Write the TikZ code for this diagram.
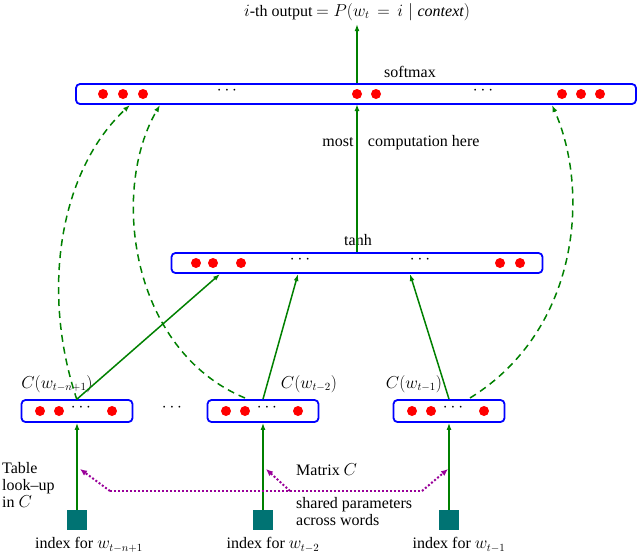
\documentclass[tikz,border=0pt]{standalone}
\usepackage{fontspec}
\setmainfont{Liberation Serif}
\usetikzlibrary{arrows.meta}
\begin{document}
\begin{tikzpicture}[x=1pt,y=-1pt,font=\fontsize{16}{17}\selectfont,
 box/.style={draw=blue,line width=1.8pt,rounded corners=4pt,inner sep=0},
 dot/.style={fill=red,circle,inner sep=0,minimum width=9pt,minimum height=10pt},
 gr/.style={draw=green!50!black,line width=1.5pt,-{Latex[length=7pt,width=5pt]}},
 gd/.style={gr,dash pattern=on 7pt off 5pt},
 pu/.style={draw=violet!80!magenta,line width=2pt,dotted,-{Latex[length=7pt,width=6pt]}},
 sq/.style={fill=teal!90!black,minimum size=20pt,inner sep=0}]
\useasboundingbox (0,0) rectangle (640,555);
% boxes
\node[box,minimum width=111pt,minimum height=22pt] (b1) at (77,411) {};
\node[box,minimum width=111pt,minimum height=22pt] (b2) at (263,411) {};
\node[box,minimum width=111pt,minimum height=22pt] (b3) at (449,411) {};
\node[box,minimum width=371pt,minimum height=20pt] (th) at (357,263) {};
\node[box,minimum width=560pt,minimum height=20pt] (sm) at (356,94) {};
\foreach \b/\x in {1/22,2/208,3/394}{
 \node[dot] (d\b a) at (\x+18,411) {};
 \node[dot] (d\b b) at (\x+37,411) {};
 \node (d\b c) at (\x+59,408) {$\cdots$};
 \node[dot] (d\b d) at (\x+90,411) {};}
\node (dots) at (172,408) {$\cdots$};
\foreach \n/\x in {t1/196,t2/213,t3/241,t4/500,t5/520}{\node[dot] (\n) at (\x,263) {};}
\node (te1) at (300,260) {$\cdots$};
\node (te2) at (420,260) {$\cdots$};
\foreach \n/\x in {s1/103,s2/123,s3/143,s4/357,s5/376,s6/562,s7/581,s8/600}{\node[dot] (\n) at (\x,94) {};}
\node (se1) at (227,91) {$\cdots$};
\node (se2) at (483,91) {$\cdots$};
% labels
\node (tanh) at (358,240) {tanh};
\node (soft) at (410,72) {softmax};
\node (out) at (357,12) {$i$-th output $= P(w_t\,=\,i\mid \mathit{context})$};
\node (mc) at (401,143) {most\hspace{0.9em}computation here};
\node (c1) at (57,384) {$C(w_{t-n+1})$};
\node (c2) at (309,384) {$C(w_{t-2})$};
\node (c3) at (414,384) {$C(w_{t-1})$};
\node[align=left,anchor=north west,inner sep=0] (tl) at (2,462) {Table\\ look\textendash up\\ in $C$};
\node[anchor=west,inner sep=0] (mx) at (296,470) {Matrix $C$};
\node[align=left,anchor=north west,inner sep=0] (sp) at (296,497) {shared parameters\\across words};
% index squares
\node[sq] (i1) at (77,520) {};
\node[sq] (i2) at (263,520) {};
\node[sq] (i3) at (449,520) {};
\node (l1) at (89,545) {index for $w_{t-n+1}$};
\node (l2) at (273,545) {index for $w_{t-2}$};
\node (l3) at (459,545) {index for $w_{t-1}$};
% connectors
\draw[gr] (i1.north) -- (b1.south);
\draw[gr] (i2.north) -- (b2.south);
\draw[gr] (i3.north) -- (b3.south);
\draw[gr] (b1.north) -- (220,274);
\draw[gr] (b2.north) -- (298,274);
\draw[gr] (b3.north) -- (410,274);
\draw[gr] (th.north) -- (357,104);
\draw[gr] (sm.north -| 357,0) -- (out.south);
\draw[gd] (77,400) .. controls (40,290) and (60,170) .. (130,105);
\draw[gd] (245,398) .. controls (130,350) and (110,190) .. (160,105);
\draw[gd] (470,398) .. controls (580,330) and (590,190) .. (552,105);
\coordinate (p1) at (110,491);
\coordinate (p2) at (290,491);
\coordinate (p3) at (422,491);
\draw[pu] (p1) -- (80,469);
\draw[pu] (p2) -- (266,469);
\draw[pu] (p3) -- (448,469);
\draw[violet!80!magenta,line width=2pt,dotted] (p1) -- (p3);
\end{tikzpicture}
\end{document}
